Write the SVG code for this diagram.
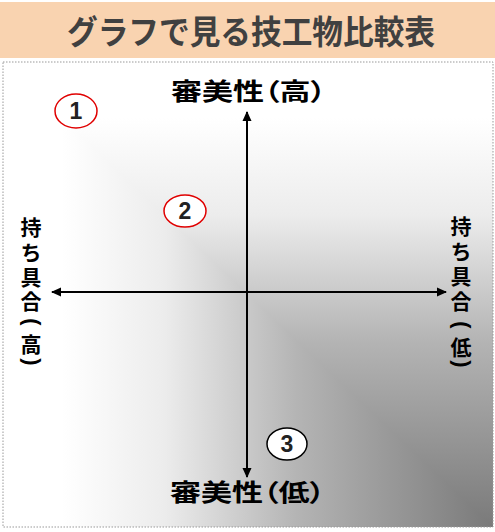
<svg xmlns="http://www.w3.org/2000/svg" width="495" height="532" viewBox="0 0 495 532">
<defs>
<linearGradient id="gx" gradientUnits="userSpaceOnUse" x1="3" y1="0" x2="493" y2="0">
<stop offset="0" stop-color="#ffffff"/>
<stop offset="0.12" stop-color="#ffffff"/>
<stop offset="0.33" stop-color="#ececec"/>
<stop offset="0.6" stop-color="#b4b4b4"/>
<stop offset="1" stop-color="#7a7a7a"/>
</linearGradient>
<linearGradient id="gy" gradientUnits="userSpaceOnUse" x1="0" y1="62" x2="0" y2="527">
<stop offset="0" stop-color="#ffffff"/>
<stop offset="0.12" stop-color="#ffffff"/>
<stop offset="0.33" stop-color="#ececec"/>
<stop offset="0.6" stop-color="#b4b4b4"/>
<stop offset="1" stop-color="#7a7a7a"/>
</linearGradient>
<marker id="ah" viewBox="0 0 10 10" refX="9" refY="5" markerWidth="10" markerHeight="10" markerUnits="userSpaceOnUse" orient="auto">
<path d="M0,0.5 L10,5 L0,9.5 Z" fill="#000"/>
</marker>
<style>
.lbl{font-family:"Noto Sans CJK JP","Noto Sans CJK SC",sans-serif;font-weight:bold;font-size:24px;fill:#000;font-feature-settings:"palt"}
.vc{font-family:"Noto Sans CJK JP","Noto Sans CJK SC",sans-serif;font-weight:bold;font-size:21px;fill:#000;text-anchor:middle}
.vp{font-family:"Liberation Sans",Arial,sans-serif;font-weight:bold;font-size:22px;fill:#000;text-anchor:middle}
.num{font-family:"Liberation Sans",Arial,sans-serif;font-weight:bold;font-size:23px;fill:#222;text-anchor:middle}
.ax{stroke:#000;stroke-width:2;fill:none}
</style>
</defs>
<rect x="0" y="2" width="495" height="56" fill="#f9d3b0"/>
<text x="251" y="44" text-anchor="middle" font-family="'Noto Sans CJK JP','Noto Sans CJK SC',sans-serif" font-weight="bold" font-size="33" fill="#404040" textLength="368" lengthAdjust="spacingAndGlyphs">グラフで見る技工物比較表</text>
<g style="isolation:isolate">
<rect x="3" y="62" width="490" height="465" fill="url(#gx)"/>
<rect x="3" y="62" width="490" height="465" fill="url(#gy)" style="mix-blend-mode:lighten"/>
</g>
<rect x="3" y="62" width="490" height="465" fill="none" stroke="#999" stroke-width="1" stroke-dasharray="1.5,1.5"/>
<g id="connectors">
<line class="ax" x1="247" y1="292" x2="247" y2="112" marker-end="url(#ah)"/>
<line class="ax" x1="247" y1="292" x2="247" y2="477" marker-end="url(#ah)"/>
<line class="ax" x1="247" y1="292" x2="52" y2="292" marker-end="url(#ah)"/>
<line class="ax" x1="247" y1="292" x2="446" y2="292" marker-end="url(#ah)"/>
</g>
<g id="top-label"><text class="lbl" x="171" y="100" textLength="155" lengthAdjust="spacingAndGlyphs">審美性（高）</text></g>
<g id="bottom-label"><text class="lbl" x="170" y="501" textLength="155" lengthAdjust="spacingAndGlyphs">審美性（低）</text></g>
<g id="left-label">
<text class="vc" x="31" y="235">持</text>
<text class="vc" x="31" y="260">ち</text>
<text class="vc" x="31" y="285">具</text>
<text class="vc" x="31" y="309">合</text>
<text class="vp" transform="translate(31,322) rotate(90)" x="0" y="6">(</text>
<text class="vc" x="31" y="352">高</text>
<text class="vp" transform="translate(31,362) rotate(90)" x="0" y="6">)</text>
</g>
<g id="right-label">
<text class="vc" x="461" y="234">持</text>
<text class="vc" x="461" y="259">ち</text>
<text class="vc" x="461" y="284">具</text>
<text class="vc" x="461" y="309">合</text>
<text class="vp" transform="translate(461,325) rotate(90)" x="0" y="6">(</text>
<text class="vc" x="461" y="355">低</text>
<text class="vp" transform="translate(461,364) rotate(90)" x="0" y="6">)</text>
</g>
<g id="n1"><ellipse cx="76" cy="111" rx="21" ry="17" fill="#fff" stroke="#e00000" stroke-width="1.5"/><text class="num" x="76" y="119">1</text></g>
<g id="n2"><ellipse cx="185" cy="211" rx="21" ry="16" fill="#fff" stroke="#e00000" stroke-width="1.5"/><text class="num" x="185" y="219">2</text></g>
<g id="n3"><ellipse cx="287" cy="444" rx="20" ry="16" fill="#fff" stroke="#000" stroke-width="1.5"/><text class="num" x="287" y="452">3</text></g>
</svg>
